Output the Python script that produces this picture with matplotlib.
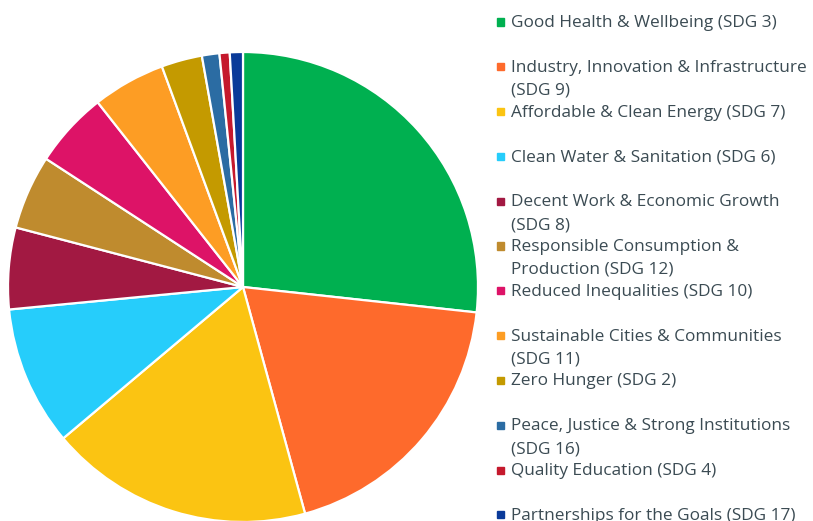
import matplotlib.pyplot as plt
from matplotlib.patches import Rectangle

labels = [
    "Good Health & Wellbeing (SDG 3)",
    "Industry, Innovation & Infrastructure\n(SDG 9)",
    "Affordable & Clean Energy (SDG 7)",
    "Clean Water & Sanitation (SDG 6)",
    "Decent Work & Economic Growth\n(SDG 8)",
    "Responsible Consumption &\nProduction (SDG 12)",
    "Reduced Inequalities (SDG 10)",
    "Sustainable Cities & Communities\n(SDG 11)",
    "Zero Hunger (SDG 2)",
    "Peace, Justice & Strong Institutions\n(SDG 16)",
    "Quality Education (SDG 4)",
    "Partnerships for the Goals (SDG 17)",
]
shares = [26.7, 19.0, 18.1, 9.6, 5.6, 5.1, 5.2, 5.0, 2.8, 1.2, 0.7, 0.9]
colors = ["#00b050", "#fe6a2c", "#fbc412", "#26cdfb", "#a21942", "#bf8b2e",
          "#dd1367", "#fd9d24", "#c49a00", "#2b6ca3", "#c5192d", "#0a3a99"]

W, H = 813, 521
fig = plt.figure(figsize=(W / 100, H / 100), dpi=100)

# pie centre (243, 287) px, radius 235 px
cx, cy, r = 243, 287, 235
ax = fig.add_axes([(cx - r) / W, (H - cy - r) / H, 2 * r / W, 2 * r / H])
ax.pie(shares, colors=colors, startangle=90, counterclock=False, radius=1,
       wedgeprops=dict(edgecolor="white", linewidth=1.6))
ax.set_xlim(-1, 1)
ax.set_ylim(-1, 1)
ax.set_aspect("equal")
ax.axis("off")

# legend, drawn by hand to keep the fixed slot spacing
# (the last entry runs off the bottom edge, as in the original)
text_col = "#3b4b53"
y0, step, line_h = 22, 44.8, 23
for i, (lab, col) in enumerate(zip(labels, colors)):
    y = y0 + i * step
    fig.patches.append(Rectangle((497 / W, (H - y - 3.5) / H), 7 / W, 7 / H,
                                 transform=fig.transFigure, color=col))
    for k, line in enumerate(lab.split("\n")):
        fig.text(511 / W, (H - y - 5 - k * line_h) / H, line, color=text_col,
                 fontsize=12.4, family="Open Sans", va="baseline", ha="left")

fig.savefig("out.png", dpi=100)
